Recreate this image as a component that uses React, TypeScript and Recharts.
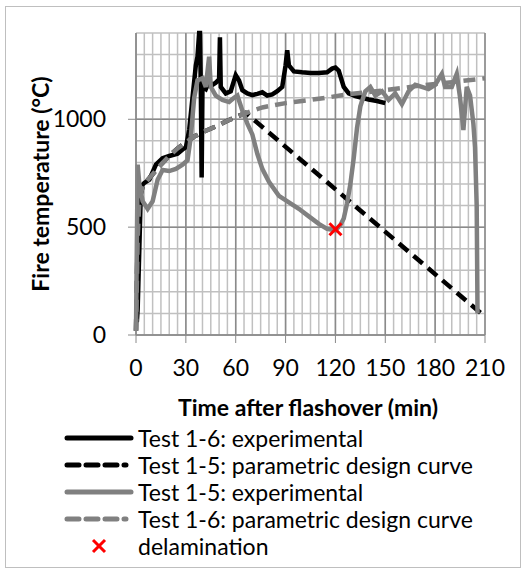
import React from 'react';
import { ComposedChart, Line, Scatter, XAxis, YAxis, CartesianGrid } from 'recharts';

// time after flashover (min) vs fire temperature (°C)
const test16Exp = [
  { t: 0.5, v: 60 }, { t: 1, v: 120 }, { t: 2, v: 400 }, { t: 3, v: 690 }, { t: 5, v: 705 },
  { t: 8, v: 720 }, { t: 12, v: 790 }, { t: 16, v: 820 }, { t: 20, v: 830 }, { t: 25, v: 840 },
  { t: 28, v: 860 }, { t: 30, v: 870 }, { t: 32, v: 950 }, { t: 34, v: 1100 }, { t: 36, v: 1250 },
  { t: 37, v: 1290 }, { t: 38, v: 1400 }, { t: 38.5, v: 1400 }, { t: 39, v: 1150 }, { t: 39.5, v: 730 },
  { t: 40, v: 1150 }, { t: 42, v: 1140 }, { t: 44, v: 1175 }, { t: 46, v: 1160 }, { t: 48, v: 1170 },
  { t: 50, v: 1185 }, { t: 50.5, v: 1380 }, { t: 51, v: 1150 }, { t: 54, v: 1120 }, { t: 57, v: 1130 },
  { t: 60, v: 1205 }, { t: 62, v: 1180 }, { t: 64, v: 1135 }, { t: 67, v: 1120 }, { t: 70, v: 1112 },
  { t: 73, v: 1118 }, { t: 76, v: 1125 }, { t: 79, v: 1110 }, { t: 82, v: 1115 }, { t: 85, v: 1130 },
  { t: 88, v: 1150 }, { t: 90, v: 1250 }, { t: 91, v: 1320 }, { t: 92, v: 1250 }, { t: 95, v: 1222 },
  { t: 100, v: 1218 }, { t: 105, v: 1215 }, { t: 110, v: 1215 }, { t: 115, v: 1218 }, { t: 118, v: 1235 },
  { t: 120, v: 1240 }, { t: 122, v: 1225 }, { t: 125, v: 1150 }, { t: 128, v: 1120 }, { t: 132, v: 1108 },
  { t: 136, v: 1100 }, { t: 140, v: 1092 }, { t: 145, v: 1085 }, { t: 150, v: 1075 },
];

const test15Param = [
  { t: 0, v: 20 }, { t: 1, v: 450 }, { t: 2, v: 620 }, { t: 4, v: 690 }, { t: 6.6, v: 715 },
  { t: 10, v: 745 }, { t: 15, v: 790 }, { t: 20, v: 830 }, { t: 25, v: 865 }, { t: 30, v: 893 },
  { t: 35, v: 920 }, { t: 40, v: 940 }, { t: 48, v: 967 }, { t: 55, v: 993 }, { t: 60, v: 1010 },
  { t: 66, v: 1030 }, { t: 210, v: 85 },
];

const test15Exp = [
  { t: 0, v: 20 }, { t: 0.5, v: 400 }, { t: 1, v: 790 }, { t: 2, v: 700 }, { t: 4, v: 620 },
  { t: 7, v: 585 }, { t: 10, v: 620 }, { t: 13, v: 720 }, { t: 16, v: 765 }, { t: 20, v: 760 },
  { t: 24, v: 770 }, { t: 28, v: 790 }, { t: 31, v: 810 }, { t: 33, v: 920 }, { t: 35, v: 1100 },
  { t: 37, v: 1180 }, { t: 40, v: 1190 }, { t: 42, v: 1150 }, { t: 44, v: 1290 }, { t: 45, v: 1150 },
  { t: 48, v: 1110 }, { t: 52, v: 1090 }, { t: 56, v: 1080 }, { t: 59, v: 1100 }, { t: 61, v: 1110 },
  { t: 64, v: 1040 }, { t: 67, v: 980 }, { t: 70, v: 930 }, { t: 73, v: 840 }, { t: 76, v: 770 },
  { t: 80, v: 710 }, { t: 86, v: 645 }, { t: 92, v: 615 }, { t: 98, v: 585 }, { t: 104, v: 550 },
  { t: 110, v: 515 }, { t: 115, v: 492 }, { t: 120, v: 485 }, { t: 123, v: 510 }, { t: 125, v: 540 },
  { t: 127, v: 610 }, { t: 129, v: 700 }, { t: 131, v: 820 }, { t: 133, v: 960 }, { t: 135, v: 1060 },
  { t: 138, v: 1130 }, { t: 141, v: 1150 }, { t: 144, v: 1110 }, { t: 148, v: 1130 }, { t: 152, v: 1090 },
  { t: 156, v: 1120 }, { t: 160, v: 1070 }, { t: 164, v: 1130 }, { t: 168, v: 1160 }, { t: 172, v: 1150 },
  { t: 176, v: 1140 }, { t: 180, v: 1160 }, { t: 184, v: 1210 }, { t: 186, v: 1150 }, { t: 190, v: 1150 },
  { t: 193, v: 1210 }, { t: 195, v: 1100 }, { t: 197, v: 950 }, { t: 199, v: 1150 }, { t: 201, v: 1110 },
  { t: 203, v: 980 }, { t: 204, v: 870 }, { t: 205, v: 600 }, { t: 205.5, v: 100 },
];

const test16Param = [
  { t: 0, v: 20 }, { t: 1, v: 450 }, { t: 2, v: 620 }, { t: 4, v: 690 }, { t: 6.6, v: 715 },
  { t: 10, v: 745 }, { t: 15, v: 790 }, { t: 20, v: 830 }, { t: 25, v: 865 }, { t: 30, v: 893 },
  { t: 35, v: 920 }, { t: 40, v: 940 }, { t: 48, v: 967 }, { t: 55, v: 993 }, { t: 60, v: 1010 },
  { t: 70, v: 1040 }, { t: 76, v: 1055 }, { t: 90, v: 1075 }, { t: 100, v: 1085 }, { t: 110, v: 1095 },
  { t: 128, v: 1116 }, { t: 150, v: 1135 }, { t: 170, v: 1155 }, { t: 190, v: 1172 }, { t: 210, v: 1190 },
];

const delamination = [{ t: 120, v: 490 }];

const xTicks = [0, 30, 60, 90, 120, 150, 180, 210];
const yTicks = [0, 500, 1000];
const xMinor = Array.from({ length: 43 }, (_, i) => i * 5);
const yMinor = Array.from({ length: 15 }, (_, i) => i * 100);

const font = 'Lato, "Noto Sans", sans-serif';
const FS = 23;
const GRAY = '#808080';
const RED = '#ff0000';
const LW = 4.5;

const Cross = (props: any) => {
  const { cx, cy } = props;
  const s = 6;
  return (
    <g stroke={RED} strokeWidth={3}>
      <line x1={cx - s} y1={cy - s} x2={cx + s} y2={cy + s} />
      <line x1={cx - s} y1={cy + s} x2={cx + s} y2={cy - s} />
    </g>
  );
};

const legendItems = [
  { label: 'Test 1-6: experimental', color: '#000', dash: undefined },
  { label: 'Test 1-5: parametric design curve', color: '#000', dash: '12 7' },
  { label: 'Test 1-5: experimental', color: GRAY, dash: undefined },
  { label: 'Test 1-6: parametric design curve', color: GRAY, dash: '12 7' },
];

export default function App() {
  return (
    <div style={{ position: 'absolute', left: 0, top: 0, width: 526, height: 572, background: '#fff', fontFamily: font }}>
      <div style={{ position: 'absolute', left: 5, top: 6, width: 514, height: 560, border: '1px solid #bfbfbf' }} />
      <div style={{ position: 'absolute', left: 0, top: 0 }}>
        <ComposedChart width={526} height={400} margin={{ top: 33, right: 41, left: 0, bottom: 0 }}>
          <CartesianGrid stroke="#c0c0c0" strokeWidth={1.5} verticalValues={xMinor} horizontalValues={yMinor} />
          <CartesianGrid stroke="#8a8a8a" strokeWidth={1.5} verticalValues={xTicks} horizontalValues={yTicks} />
          <XAxis
            type="number"
            dataKey="t"
            domain={[0, 210]}
            ticks={xTicks}
            interval={0}
            height={65}
            stroke="#8a8a8a"
            tickSize={8}
            tickMargin={17}
            tick={{ fill: '#000', fontSize: FS, fontFamily: font }}
            allowDuplicatedCategory={false}
          />
          <YAxis
            type="number"
            dataKey="v"
            domain={[0, 1400]}
            ticks={yTicks}
            interval={0}
            width={136}
            stroke="#8a8a8a"
            tickSize={8}
            tickMargin={22}
            tick={{ fill: '#000', fontSize: FS, fontFamily: font }}
          />
          <Line data={test16Exp} dataKey="v" stroke="#000" strokeWidth={LW} dot={false} isAnimationActive={false} />
          <Line data={test15Param} dataKey="v" stroke="#000" strokeWidth={LW} strokeDasharray="12 7" dot={false} isAnimationActive={false} />
          <Line data={test15Exp} dataKey="v" stroke={GRAY} strokeWidth={LW} dot={false} isAnimationActive={false} />
          <Line data={test16Param} dataKey="v" stroke={GRAY} strokeWidth={LW} strokeDasharray="12 7" dot={false} isAnimationActive={false} />
          <Scatter data={delamination} dataKey="v" shape={<Cross />} isAnimationActive={false} />
        </ComposedChart>
      </div>
      <div
        style={{
          position: 'absolute', left: 40, top: 184, transform: 'translate(-50%, -50%) rotate(-90deg)',
          whiteSpace: 'nowrap', fontWeight: 'bold', fontSize: FS, color: '#000',
        }}
      >
        Fire temperature (°C)
      </div>
      <div
        style={{
          position: 'absolute', left: 308, top: 407, transform: 'translate(-50%, -50%)',
          whiteSpace: 'nowrap', fontWeight: 'bold', fontSize: FS, color: '#000',
        }}
      >
        Time after flashover (min)
      </div>
      {legendItems.map((it, i) => (
        <div key={it.label} style={{ position: 'absolute', left: 64, top: 438 + i * 27 - 14, height: 28, display: 'flex', alignItems: 'center' }}>
          <svg width={70} height={10} style={{ display: 'block' }}>
            <line x1={3} y1={5} x2={it.dash ? 62 : 67} y2={5} stroke={it.color} strokeWidth={5} strokeDasharray={it.dash} strokeLinecap="round" />
          </svg>
          <span style={{ marginLeft: 4, fontSize: FS, color: '#000', whiteSpace: 'nowrap' }}>{it.label}</span>
        </div>
      ))}
      <div style={{ position: 'absolute', left: 64, top: 546 - 14, height: 28, display: 'flex', alignItems: 'center' }}>
        <svg width={70} height={16} style={{ display: 'block' }}>
          <g stroke={RED} strokeWidth={3}>
            <line x1={29} y1={2} x2={41} y2={14} />
            <line x1={29} y1={14} x2={41} y2={2} />
          </g>
        </svg>
        <span style={{ marginLeft: 4, fontSize: FS, color: '#000', whiteSpace: 'nowrap' }}>delamination</span>
      </div>
    </div>
  );
}
